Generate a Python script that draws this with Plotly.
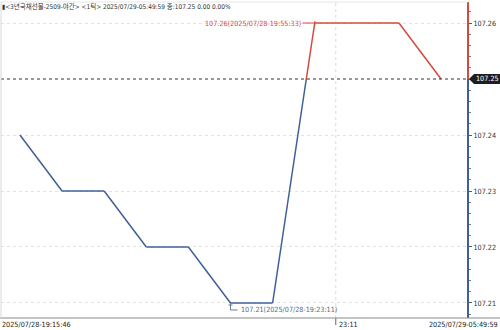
import plotly.graph_objects as go

# ---- data ----
idx = list(range(11))
prices = [107.24, 107.23, 107.23, 107.22, 107.22, 107.21, 107.21, 107.26, 107.26, 107.26, 107.25]
ref_price = 107.25
y_tick_vals = [107.21, 107.22, 107.23, 107.24, 107.26]
y_tick_text = ["107.21", "107.22", "107.23", "107.24", "107.26"]
x_labels = ["2025/07/28-19:15:46", "23:11", "2025/07/29-05:49:59"]
x_label_pos = [-0.45, 7.5, 10.64]
title_text = "▮<3년국채선물-2509-야간> <1틱> 2025/07/29-05:49:59 종:107.25 0.00 0.00%"
max_idx, max_label = 7, "107.26(2025/07/28-19:55:33)"
min_idx, min_label = 5, "107.21(2025/07/28-19:23:11)"
last_label = "107.25"

RED = "#d24b3e"
BLUE = "#3f5f98"
FONT = "DejaVu Sans Condensed, Noto Sans CJK KR"
FS = 7.2

# split the line by side of the reference price
bx, by, rx, ry = [], [], [], []
def add(seg_x, seg_y, up):
    tx, ty = (rx, ry) if up else (bx, by)
    tx += seg_x + [None]
    ty += seg_y + [None]
for i in range(len(idx) - 1):
    x0, y0, x1, y1 = idx[i], prices[i], idx[i + 1], prices[i + 1]
    if (y0 - ref_price) * (y1 - ref_price) < 0:
        xc = x0 + (ref_price - y0) / (y1 - y0) * (x1 - x0)
        add([x0, xc], [y0, ref_price], y0 > ref_price)
        add([xc, x1], [ref_price, y1], y1 > ref_price)
    else:
        add([x0, x1], [y0, y1], max(y0, y1) > ref_price)

xr = [-0.45, 10.64]
yr = [107.20732, 107.26375]
ref_paper = (ref_price - yr[0]) / (yr[1] - yr[0])

fig = go.Figure()
fig.add_trace(go.Scatter(x=bx, y=by, mode="lines", line=dict(color=BLUE, width=1.5),
                         hoverinfo="skip", showlegend=False))
fig.add_trace(go.Scatter(x=rx, y=ry, mode="lines", line=dict(color=RED, width=1.5),
                         hoverinfo="skip", showlegend=False))

shapes = []
# vertical grid at time tick
shapes.append(dict(type="line", xref="x", yref="paper", x0=x_label_pos[1], x1=x_label_pos[1],
                   y0=0, y1=1, line=dict(color="#dcdcdc", width=1, dash="dot"), layer="below"))
# tick mark under axis
shapes.append(dict(type="line", xref="paper", yref="paper",
                   x0=(x_label_pos[1] - xr[0]) / (xr[1] - xr[0]), x1=(x_label_pos[1] - xr[0]) / (xr[1] - xr[0]),
                   ysizemode="pixel", yanchor=0, y0=0, y1=-7, line=dict(color="#666", width=1)))
# reference dotted line
shapes.append(dict(type="line", xref="paper", yref="y", x0=0, x1=1, y0=ref_price, y1=ref_price,
                   line=dict(color="#333", width=1, dash="dot")))
# right axis coloured line
shapes.append(dict(type="line", xref="paper", yref="paper", x0=1, x1=1, y0=ref_paper, y1=1,
                   line=dict(color=RED, width=2)))
shapes.append(dict(type="line", xref="paper", yref="paper", x0=1, x1=1, y0=0, y1=ref_paper,
                   line=dict(color=BLUE, width=2)))
# bottom axis line across full width
shapes.append(dict(type="line", xref="paper", yref="paper", x0=-0.01, x1=1.08, y0=0, y1=0,
                   line=dict(color="#8a8a8a", width=1)))
# frame lines
shapes.append(dict(type="line", xref="paper", yref="paper", x0=0, x1=0, y0=0, y1=1,
                   line=dict(color="#d5d9de", width=1)))
shapes.append(dict(type="line", xref="paper", yref="paper", x0=0, x1=1, y0=1, y1=1,
                   line=dict(color="#e3e6ea", width=1)))
# last value box with arrow
shapes.append(dict(type="path", xref="paper", yref="paper", xsizemode="pixel", ysizemode="pixel",
                   xanchor=1, yanchor=ref_paper,
                   path="M1,0 L6,5 L32,5 L32,-5 L6,-5 Z",
                   fillcolor="#1e1e1e", line=dict(width=0)))
# max connector
shapes.append(dict(type="path", xref="x", yref="y", xsizemode="pixel", ysizemode="pixel",
                   xanchor=max_idx, yanchor=prices[max_idx],
                   path="M0,0 L-12,0 M0,2 L0,-3", line=dict(color=RED, width=1)))
# min connector
shapes.append(dict(type="path", xref="x", yref="y", xsizemode="pixel", ysizemode="pixel",
                   xanchor=min_idx, yanchor=prices[min_idx],
                   path="M0,0 L0,-7 L7,-7 M-2,-2 L2,-2", line=dict(color="#6a7a90", width=1)))

ann = []
ann.append(dict(text=title_text, xref="paper", yref="paper", x=0, y=1, xanchor="left", yanchor="top",
                xshift=-1, yshift=2, showarrow=False, font=dict(family=FONT, size=6.5, color="#333")))
ann.append(dict(text=max_label, xref="x", yref="y", x=max_idx, y=prices[max_idx], xanchor="right",
                yanchor="middle", xshift=-12, showarrow=False, font=dict(family=FONT, size=FS, color=RED)))
ann.append(dict(text=min_label, xref="x", yref="y", x=min_idx, y=prices[min_idx], xanchor="left",
                yanchor="middle", xshift=8, yshift=-7, showarrow=False,
                font=dict(family=FONT, size=FS, color="#5a6a82")))
ann.append(dict(text=last_label, xref="paper", yref="paper", x=1, y=ref_paper, xanchor="center",
                yanchor="middle", xshift=19, showarrow=False, font=dict(family=FONT, size=FS, color="white")))
anchors = ["left", "left", "right"]
shifts = [-1, 1, 32]
for lab, pos, anc, sh in zip(x_labels, x_label_pos, anchors, shifts):
    ann.append(dict(text=lab, xref="x", yref="paper", x=pos, y=0, xanchor=anc, yanchor="top",
                    xshift=sh, yshift=0, showarrow=False, font=dict(family=FONT, size=FS, color="#222")))

fig.update_layout(
    width=500, height=330,
    margin=dict(l=1, r=32, t=2, b=12),
    paper_bgcolor="white", plot_bgcolor="white",
    xaxis=dict(range=xr, showgrid=False, zeroline=False, showticklabels=False, ticks="", showline=False,
               fixedrange=True),
    yaxis=dict(range=yr, side="right", tickvals=y_tick_vals, ticktext=y_tick_text,
               showgrid=True, gridcolor="#e2e2e2", griddash="dot", zeroline=False, showline=False,
               ticks="outside", ticklen=3, tickcolor="#555", ticklabelstandoff=0,
               minor=dict(dtick=0.002, ticks="outside", ticklen=2, tickcolor="#777", showgrid=False),
               tickfont=dict(family=FONT, size=FS, color="#333"), fixedrange=True),
    shapes=shapes, annotations=ann, showlegend=False,
)
fig.write_html("out.html")
